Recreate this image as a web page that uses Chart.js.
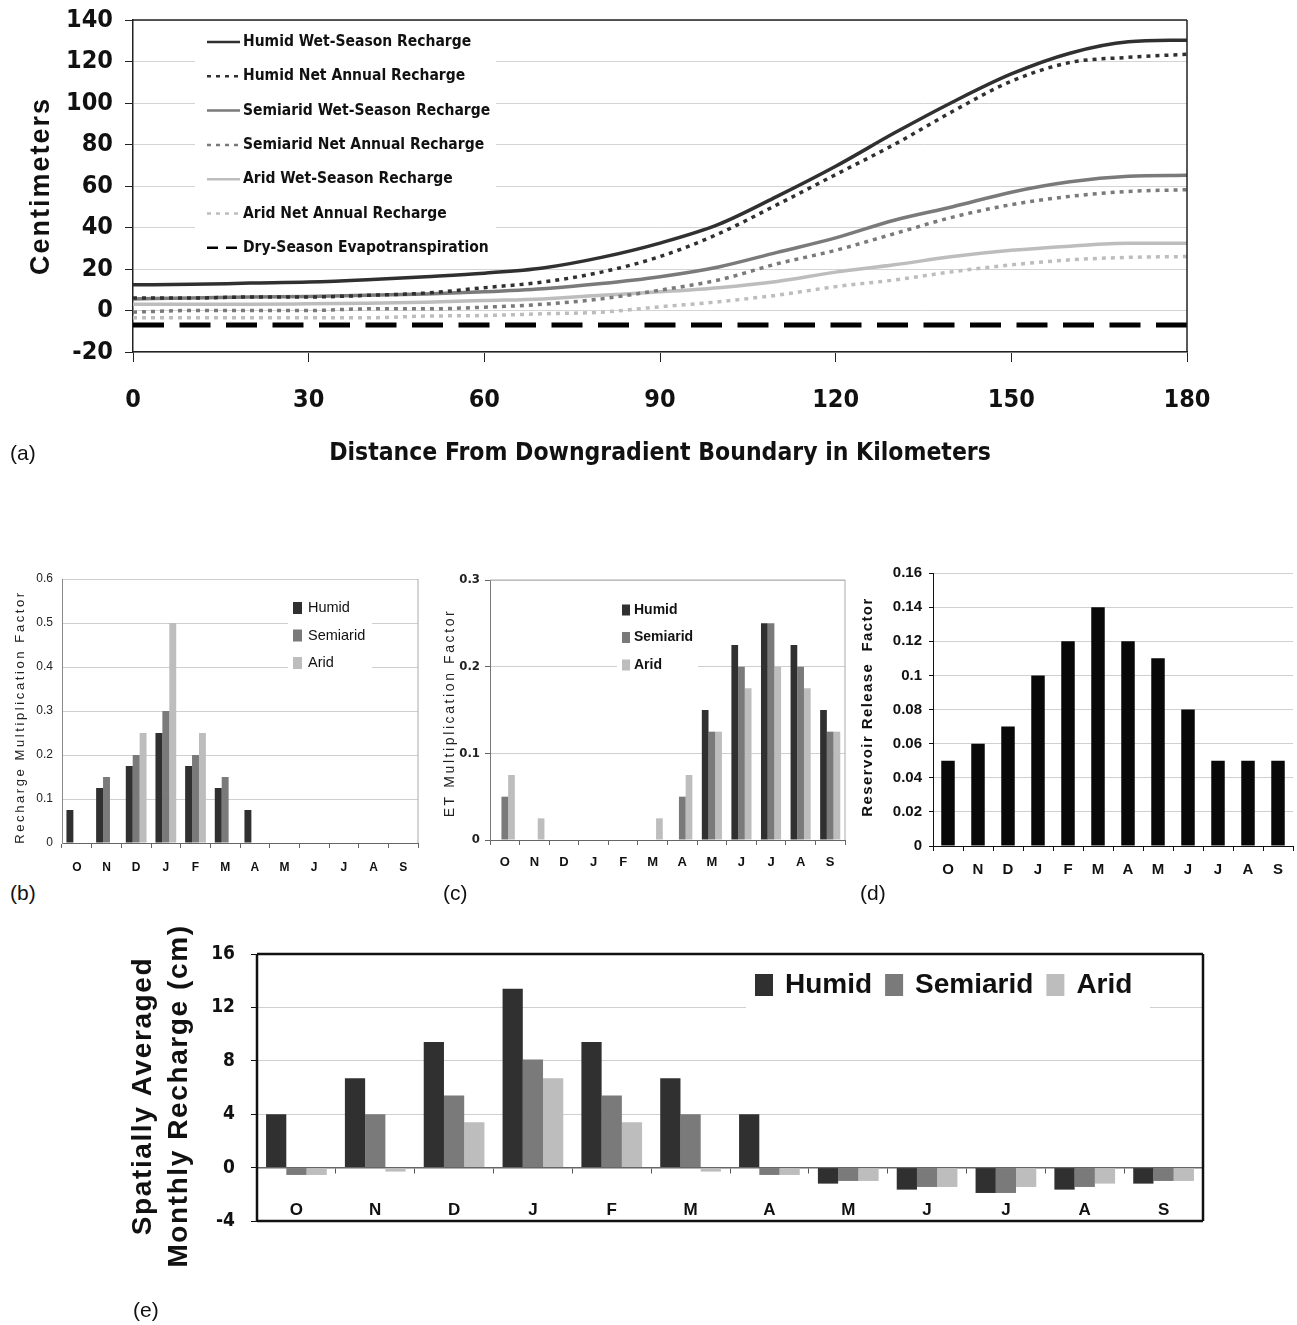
<!DOCTYPE html>
<html>
<head>
<meta charset="utf-8">
<script src="https://cdn.jsdelivr.net/npm/chart.js@4.4.1/dist/chart.umd.min.js"></script>
<style>
  html, body { margin: 0; padding: 0; background: #fff; }
  body { position: relative; width: 1297px; height: 1325px; overflow: hidden; font-family: "Liberation Sans", Arial, sans-serif; }
  canvas { position: absolute; }
  .tag { position: absolute; font-size: 21px; color: #111; line-height: 24px; }
</style>
</head>
<body>
<canvas id="chartA" width="1297" height="480" style="left:0;top:0"></canvas>
<canvas id="chartB" width="430" height="320" style="left:0;top:560px"></canvas>
<canvas id="chartC" width="430" height="320" style="left:430px;top:560px"></canvas>
<canvas id="chartD" width="447" height="320" style="left:850px;top:560px"></canvas>
<canvas id="chartE" width="1177" height="420" style="left:120px;top:890px"></canvas>
<div class="tag" style="left:10px;top:441px">(a)</div>
<div class="tag" style="left:10px;top:881px">(b)</div>
<div class="tag" style="left:443px;top:881px">(c)</div>
<div class="tag" style="left:860px;top:881px">(d)</div>
<div class="tag" style="left:133px;top:1298px">(e)</div>
<script>
// (a) recharge / ET along the flow path, every 10 km
const distanceKm = [0, 10, 20, 30, 40, 50, 60, 70, 80, 90, 100, 110, 120, 130, 140, 150, 160, 170, 180];
const humidWet    = [12.4, 12.6, 13.2, 13.7, 14.8, 16.3, 18, 20.5, 25.6, 32.5, 41.5, 55, 69.5, 85.5, 100.5, 114, 124, 129.5, 130.3];
const humidNet    = [6, 6, 6.5, 6.5, 7.3, 8.4, 11, 13.7, 18.5, 26, 37, 51, 65.5, 80, 96, 110.5, 119.5, 122, 123.5];
const semiaridWet = [5.6, 6, 6.5, 6.8, 7.3, 8, 9, 10.5, 13, 16.3, 21, 28, 35, 43.5, 50, 57, 62, 64.7, 65.2];
const semiaridNet = [-0.8, 0, 0, 0, 0.8, 0.8, 1.6, 3, 5.6, 9.8, 14.7, 22.5, 29, 37, 45, 51, 55, 57.4, 58.2];
const aridWet     = [3, 3, 3, 3.2, 3.5, 4, 4.8, 5.6, 7.3, 9, 11, 14, 18.5, 22, 26, 29, 31, 32.4, 32.4];
const aridNet     = [-3.5, -3.5, -3.5, -3.5, -3.5, -2.7, -2.4, -1.6, -0.8, 1.8, 4.2, 7.4, 11.5, 14.7, 18.7, 22, 24.4, 25.6, 26];
const dryET       = [-7, -7, -7, -7, -7, -7, -7, -7, -7, -7, -7, -7, -7, -7, -7, -7, -7, -7, -7];
const cmTicks = [-20, 0, 20, 40, 60, 80, 100, 120, 140];
const kmTicks = [0, 30, 60, 90, 120, 150, 180];

// monthly panels, October to September
const months = ['O', 'N', 'D', 'J', 'F', 'M', 'A', 'M', 'J', 'J', 'A', 'S'];
const rechargeHumid    = [0.075, 0.125, 0.175, 0.25, 0.175, 0.125, 0.075, 0, 0, 0, 0, 0];
const rechargeSemiarid = [0, 0.15, 0.2, 0.3, 0.2, 0.15, 0, 0, 0, 0, 0, 0];
const rechargeArid     = [0, 0, 0.25, 0.5, 0.25, 0, 0, 0, 0, 0, 0, 0];
const etHumid    = [0, 0, 0, 0, 0, 0, 0, 0.15, 0.225, 0.25, 0.225, 0.15];
const etSemiarid = [0.05, 0, 0, 0, 0, 0, 0.05, 0.125, 0.2, 0.25, 0.2, 0.125];
const etArid     = [0.075, 0.025, 0, 0, 0, 0.025, 0.075, 0.125, 0.175, 0.2, 0.175, 0.125];
const reservoirRelease = [0.05, 0.06, 0.07, 0.10, 0.12, 0.14, 0.12, 0.11, 0.08, 0.05, 0.05, 0.05];
const avgHumid    = [4, 6.7, 9.4, 13.4, 9.4, 6.7, 4, -1.2, -1.65, -1.9, -1.65, -1.2];
const avgSemiarid = [-0.55, 4, 5.4, 8.1, 5.4, 4, -0.55, -1.0, -1.45, -1.9, -1.45, -1.0];
const avgArid     = [-0.55, -0.3, 3.4, 6.7, 3.4, -0.3, -0.55, -1.0, -1.45, -1.45, -1.2, -1.0];
const rechargeTicks = [0, 0.1, 0.2, 0.3, 0.4, 0.5, 0.6];
const etTicks = [0, 0.1, 0.2, 0.3];
const releaseTicks = [0, 0.02, 0.04, 0.06, 0.08, 0.1, 0.12, 0.14, 0.16];
const avgTicks = [-4, 0, 4, 8, 12, 16];

const NARROW = '"Liberation Sans Narrow", "Arial Narrow", "DejaVu Sans Condensed", sans-serif';
const SANS = '"Liberation Sans", Arial, sans-serif';
const C_HUMID = '#303030', C_SEMI = '#7a7a7a', C_ARID = '#bdbdbd';

const range = t => ({ min: t[0], max: t[t.length - 1], stepSize: t[1] - t[0] });
const decimal = v => String(+v.toFixed(2));
// fixed axis width, and no extra room reserved for the end labels
const fixWidth = w => s => { s.width = w; s.paddingTop = 0; s.paddingBottom = 0; };

// box around the plot area (or some sides of it)
const frame = {
  id: 'frame',
  afterDatasetsDraw(chart, args, o) {
    const { ctx, chartArea: a } = chart;
    const pts = { top: [a.left, a.top, a.right, a.top], right: [a.right, a.top, a.right, a.bottom],
                  bottom: [a.left, a.bottom, a.right, a.bottom], left: [a.left, a.top, a.left, a.bottom] };
    ctx.save();
    ctx.strokeStyle = o.color;
    ctx.lineWidth = o.width;
    ctx.beginPath();
    (o.sides || ['top', 'right', 'bottom', 'left']).forEach(s => {
      const p = pts[s];
      ctx.moveTo(p[0], p[1]);
      ctx.lineTo(p[2], p[3]);
    });
    ctx.stroke();
    ctx.restore();
  }
};

// legend drawn inside the plot area, on a white patch
const boxLegend = {
  id: 'boxLegend',
  beforeDatasetsDraw(chart, args, o) {
    const { ctx, chartArea: a } = chart;
    ctx.save();
    if (o.bg) {
      ctx.fillStyle = '#fff';
      ctx.fillRect(a.left + o.bg[0], a.top + o.bg[1], o.bg[2], o.bg[3]);
    }
    ctx.font = o.font;
    ctx.textBaseline = 'middle';
    let x = a.left + o.x, y = a.top + o.y;
    chart.data.datasets.forEach(ds => {
      if (o.swatch === 'line') {
        ctx.strokeStyle = ds.borderColor;
        ctx.lineWidth = o.lineWidth;
        ctx.setLineDash(ds.legendDash || ds.borderDash || []);
        ctx.beginPath();
        ctx.moveTo(x, y);
        ctx.lineTo(x + o.swatchW, y);
        ctx.stroke();
        ctx.setLineDash([]);
      } else {
        ctx.fillStyle = ds.backgroundColor;
        ctx.fillRect(x, y - o.swatchH / 2, o.swatchW, o.swatchH);
      }
      ctx.fillStyle = o.color;
      ctx.fillText(ds.label, x + o.swatchW + o.gap, y);
      if (o.row) x += o.swatchW + o.gap + ctx.measureText(ds.label).width + o.itemGap;
      else y += o.step;
    });
    ctx.restore();
  }
};

// letter-spaced rotated axis titles
const sideTitle = {
  id: 'sideTitle',
  afterDraw(chart, args, o) {
    const ctx = chart.ctx;
    ctx.save();
    ctx.font = o.font;
    ctx.fillStyle = o.color;
    ctx.letterSpacing = o.spacing + 'px';
    ctx.textAlign = 'center';
    ctx.textBaseline = 'middle';
    o.lines.forEach((t, i) => {
      ctx.save();
      ctx.translate(o.x[i], o.y);
      ctx.rotate(-Math.PI / 2);
      ctx.fillText(t, 0, 0);
      ctx.restore();
    });
    ctx.restore();
  }
};

const curve = (label, values, color, dash, width) => ({
  label,
  data: distanceKm.map((x, i) => ({ x, y: values[i] })),
  borderColor: color,
  borderDash: dash,
  borderWidth: width,
  borderCapStyle: 'butt',
  pointRadius: 0,
  fill: false
});

const bars = (label, values, color) => ({ label, data: values, backgroundColor: color, borderWidth: 0 });

const base = { responsive: false, animation: false, events: [] };

// ---------- (a) ----------
const dry = curve('Dry-Season Evapotranspiration', dryET, '#000', [31, 15.5], 5);
dry.legendDash = [11, 8];
new Chart(document.getElementById('chartA'), {
  type: 'line',
  data: {
    datasets: [
      curve('Humid Wet-Season Recharge', humidWet, C_HUMID, [], 3.5),
      curve('Humid Net Annual Recharge', humidNet, C_HUMID, [4, 5], 3.5),
      curve('Semiarid Wet-Season Recharge', semiaridWet, C_SEMI, [], 3.5),
      curve('Semiarid Net Annual Recharge', semiaridNet, C_SEMI, [4, 5], 3.5),
      curve('Arid Wet-Season Recharge', aridWet, C_ARID, [], 3.5),
      curve('Arid Net Annual Recharge', aridNet, C_ARID, [4, 5], 3.5),
      dry
    ]
  },
  options: {
    ...base,
    layout: { padding: { top: 20, right: 110, left: 0, bottom: 0 } },
    elements: { line: { cubicInterpolationMode: 'monotone' } },
    plugins: {
      legend: { display: false },
      tooltip: { enabled: false },
      frame: { color: '#222', width: 1.5, sides: ['top', 'right'] },
      boxLegend: { x: 74, y: 22, step: 34.3, swatch: 'line', swatchW: 33, lineWidth: 2.5, gap: 3,
                   font: 'bold 15.5px ' + NARROW, color: '#111', bg: [62, 8, 301, 234] },
      sideTitle: { lines: ['Centimeters'], x: [42], y: 186, font: 'bold 27px ' + SANS, color: '#111', spacing: 2 }
    },
    scales: {
      x: {
        type: 'linear', ...range(kmTicks),
        ticks: { stepSize: range(kmTicks).stepSize, font: { family: NARROW, size: 25, weight: 'bold' }, color: '#111', padding: 23 },
        grid: { drawOnChartArea: false, tickLength: 10, color: '#222' },
        border: { color: '#222', width: 1.5 },
        title: { display: true, text: 'Distance From Downgradient Boundary in Kilometers',
                 font: { family: NARROW, size: 24.5, weight: 'bold' }, color: '#111', padding: { top: 0, bottom: 12 } },
        afterFit: s => { s.height = 128; }
      },
      y: {
        ...range(cmTicks),
        ticks: { stepSize: range(cmTicks).stepSize, font: { family: NARROW, size: 25, weight: 'bold' }, color: '#111', padding: 12 },
        grid: { color: '#d4d4d4', tickColor: '#222', tickLength: 8 },
        border: { color: '#222', width: 1.5 },
        afterFit: fixWidth(133)
      }
    }
  },
  plugins: [frame, boxLegend, sideTitle]
});

// shared builder for the small monthly bar panels
function monthAxis(font, padding, height, tickColor) {
  return {
    type: 'category',
    ticks: { font, color: '#111', padding },
    grid: { offset: true, drawOnChartArea: false, tickLength: 5, color: tickColor },
    border: { color: tickColor, width: 1 },
    afterFit: s => { s.height = height; }
  };
}

// ---------- (b) ----------
new Chart(document.getElementById('chartB'), {
  type: 'bar',
  data: {
    labels: months,
    datasets: [
      bars('Humid', rechargeHumid, C_HUMID),
      bars('Semiarid', rechargeSemiarid, C_SEMI),
      bars('Arid', rechargeArid, C_ARID)
    ]
  },
  options: {
    ...base,
    layout: { padding: { top: 19, right: 12, left: 0, bottom: 0 } },
    datasets: { bar: { barPercentage: 1, categoryPercentage: 0.7 } },
    plugins: {
      legend: { display: false },
      tooltip: { enabled: false },
      frame: { color: '#aaa', width: 1, sides: ['right'] },
      boxLegend: { x: 231, y: 29, step: 27.5, swatch: 'box', swatchW: 9, swatchH: 12, gap: 6,
                   font: '14.5px ' + SANS, color: '#111', bg: [226, 8, 84, 88] },
      sideTitle: { lines: ['Recharge Multiplication Factor'], x: [20], y: 157, font: '13px ' + SANS, color: '#222', spacing: 2.6 }
    },
    scales: {
      x: monthAxis({ family: SANS, size: 12, weight: 'bold' }, 12, 37, '#666'),
      y: {
        ...range(rechargeTicks),
        ticks: { stepSize: range(rechargeTicks).stepSize, callback: decimal, font: { family: SANS, size: 12 }, color: '#222', padding: 9 },
        grid: { color: '#cfcfcf', drawTicks: false },
        border: { color: '#888' },
        afterFit: fixWidth(62)
      }
    }
  },
  plugins: [frame, boxLegend, sideTitle]
});

// ---------- (c) ----------
new Chart(document.getElementById('chartC'), {
  type: 'bar',
  data: {
    labels: months,
    datasets: [
      bars('Humid', etHumid, C_HUMID),
      bars('Semiarid', etSemiarid, C_SEMI),
      bars('Arid', etArid, C_ARID)
    ]
  },
  options: {
    ...base,
    layout: { padding: { top: 20, right: 15, left: 0, bottom: 0 } },
    datasets: { bar: { barPercentage: 1, categoryPercentage: 0.68 } },
    plugins: {
      legend: { display: false },
      tooltip: { enabled: false },
      frame: { color: '#aaa', width: 1, sides: ['top', 'right'] },
      boxLegend: { x: 132, y: 30, step: 27.5, swatch: 'box', swatchW: 8, swatchH: 11, gap: 4,
                   font: 'bold 14px ' + SANS, color: '#111', bg: [127, 10, 81, 86] },
      sideTitle: { lines: ['ET Multiplication Factor'], x: [20], y: 153, font: '14px ' + SANS, color: '#222', spacing: 2.6 }
    },
    scales: {
      x: monthAxis({ family: SANS, size: 13, weight: 'bold' }, 10, 40, '#666'),
      y: {
        ...range(etTicks),
        ticks: { stepSize: range(etTicks).stepSize, callback: decimal, font: { family: NARROW, size: 13, weight: 'bold' }, color: '#222', padding: 5 },
        grid: { color: '#cfcfcf', tickColor: '#666', tickLength: 5 },
        border: { color: '#777' },
        afterFit: fixWidth(60)
      }
    }
  },
  plugins: [frame, boxLegend, sideTitle]
});

// ---------- (d) ----------
new Chart(document.getElementById('chartD'), {
  type: 'bar',
  data: {
    labels: months,
    datasets: [bars('Reservoir Release Factor', reservoirRelease, '#080808')]
  },
  options: {
    ...base,
    layout: { padding: { top: 13, right: 4, left: 0, bottom: 0 } },
    datasets: { bar: { barPercentage: 0.45, categoryPercentage: 1 } },
    plugins: {
      legend: { display: false },
      tooltip: { enabled: false },
      sideTitle: { lines: ['Reservoir Release  Factor'], x: [18], y: 147, font: 'bold 15px ' + SANS, color: '#111', spacing: 1.4 }
    },
    scales: {
      x: monthAxis({ family: SANS, size: 15, weight: 'bold' }, 10, 34, '#111'),
      y: {
        ...range(releaseTicks),
        ticks: { stepSize: range(releaseTicks).stepSize, callback: decimal, font: { family: SANS, size: 15, weight: 'bold' }, color: '#111', padding: 7 },
        grid: { color: '#d0d0d0', tickColor: '#111', tickLength: 4 },
        border: { color: '#111' },
        afterFit: fixWidth(83)
      }
    }
  },
  plugins: [sideTitle]
});

// ---------- (e) ----------
new Chart(document.getElementById('chartE'), {
  type: 'bar',
  data: {
    labels: months,
    datasets: [
      bars('Humid', avgHumid, C_HUMID),
      bars('Semiarid', avgSemiarid, C_SEMI),
      bars('Arid', avgArid, C_ARID)
    ]
  },
  options: {
    ...base,
    layout: { padding: { top: 64, right: 94, left: 0, bottom: 89 } },
    datasets: { bar: { barPercentage: 1, categoryPercentage: 0.77 } },
    plugins: {
      legend: { display: false },
      tooltip: { enabled: false },
      frame: { color: '#111', width: 2.5 },
      boxLegend: { x: 498, y: 31, row: true, swatch: 'box', swatchW: 18, swatchH: 22, gap: 12, itemGap: 13,
                   font: 'bold 28px ' + SANS, color: '#111', bg: [489, 4, 404, 52] },
      sideTitle: { lines: ['Spatially Averaged', 'Monthly Recharge (cm)'], x: [23, 59], y: 206,
                   font: 'bold 28px ' + SANS, color: '#111', spacing: 1.6 }
    },
    scales: {
      x: {
        type: 'category',
        position: { y: 0 },
        ticks: { font: { family: SANS, size: 17, weight: 'bold' }, color: '#111', padding: 28 },
        grid: { offset: true, drawOnChartArea: false, tickLength: 5, color: '#555' },
        border: { color: '#666', width: 1.5 }
      },
      y: {
        ...range(avgTicks),
        ticks: { stepSize: range(avgTicks).stepSize, font: { family: NARROW, size: 19, weight: 'bold' }, color: '#111', padding: 16 },
        grid: { color: '#d0d0d0', tickColor: '#111', tickLength: 6 },
        border: { display: false },
        afterFit: fixWidth(137)
      }
    }
  },
  plugins: [frame, boxLegend, sideTitle]
});
</script>
</body>
</html>
